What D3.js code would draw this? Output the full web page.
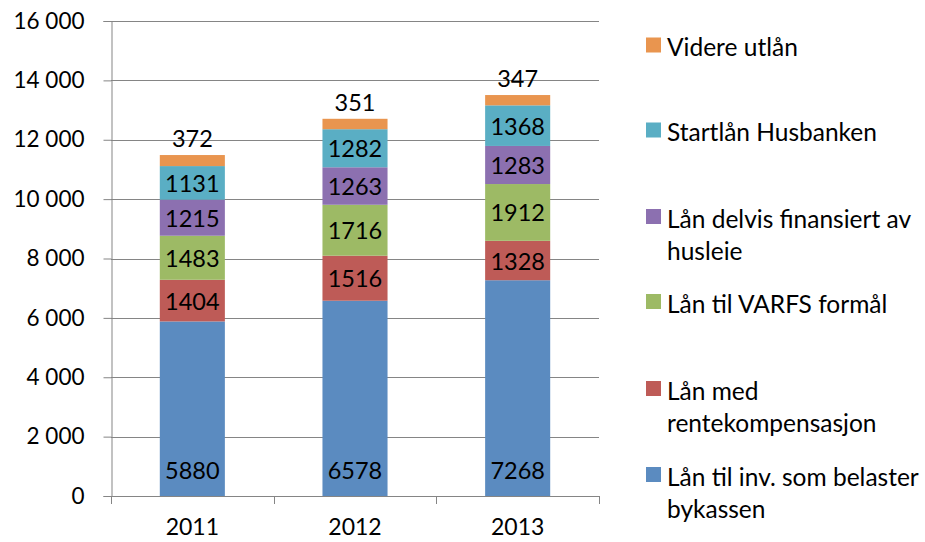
<!DOCTYPE html>
<html>
<head>
<meta charset="utf-8">
<script src="https://cdn.jsdelivr.net/npm/d3@7"></script>
<style>
  html, body { margin: 0; padding: 0; background: #fff; }
  svg { display: block; }
  text { font-family: Lato, "Open Sans", sans-serif; fill: #000; }
</style>
</head>
<body>
<svg id="chart" width="925" height="542"></svg>
<script>
const categories = ["2011", "2012", "2013"];
const seriesNames = [
  "Lån til inv. som belaster bykassen",
  "Lån med rentekompensasjon",
  "Lån til VARFS formål",
  "Lån delvis finansiert av husleie",
  "Startlån Husbanken",
  "Videre utlån"
];
const legendLines = [
  ["Lån til inv. som belaster", "bykassen"],
  ["Lån med", "rentekompensasjon"],
  ["Lån til VARFS formål"],
  ["Lån delvis finansiert av", "husleie"],
  ["Startlån Husbanken"],
  ["Videre utlån"]
];
const invBykassen = [5880, 6578, 7268];
const renteKomp = [1404, 1516, 1328];
const varfs = [1483, 1716, 1912];
const husleie = [1215, 1263, 1283];
const startlan = [1131, 1282, 1368];
const videreUtlan = [372, 351, 347];
const yTicks = [0, 2000, 4000, 6000, 8000, 10000, 12000, 14000, 16000];
const colors = ["#5b8bc0", "#be5b57", "#9dba65", "#8c70b0", "#5aaec4", "#e9954f"];

(function () {
const seriesValues = [invBykassen, renteKomp, varfs, husleie, startlan, videreUtlan];
const rows = categories.map((c, i) => {
  const r = { cat: c };
  seriesNames.forEach((s, k) => r[s] = seriesValues[k][i]);
  return r;
});
const stacked = d3.stack().keys(seriesNames)(rows);

const svg = d3.select("#chart");
const pLeft = 111, pRight = 599, pTop = 21, pBottom = 496;

const x = d3.scaleBand().domain(categories).range([pLeft, pRight]).paddingInner(0.6).paddingOuter(0.3);
const y = d3.scaleLinear().domain([0, 16000]).range([pBottom, pTop]);

const fmt = v => d3.format(",")(v).replace(/,/g, " ");

// gridlines
svg.append("g").selectAll("line").data(yTicks.filter(t => t > 0)).join("line")
  .attr("x1", pLeft).attr("x2", pRight)
  .attr("y1", d => Math.round(y(d)) + 0.5).attr("y2", d => Math.round(y(d)) + 0.5)
  .attr("stroke", "#858585").attr("stroke-width", 1);

// y axis
const yAxis = svg.append("g").attr("transform", `translate(${pLeft + 0.5},0)`)
  .call(d3.axisLeft(y).tickValues(yTicks).tickFormat(fmt).tickSize(8).tickPadding(19));
yAxis.select(".domain").attr("stroke", "#858585");
yAxis.selectAll(".tick line").attr("stroke", "#858585");
yAxis.selectAll("text").attr("font-size", 22.5).attr("font-family", "Lato").attr("fill", "#000");

// bars
const layers = svg.append("g").selectAll("g").data(stacked).join("g")
  .attr("fill", (d, i) => colors[i]);
layers.selectAll("rect").data(d => d).join("rect")
  .attr("x", d => x(d.data.cat))
  .attr("width", x.bandwidth())
  .attr("y", d => y(d[1]))
  .attr("height", d => y(d[0]) - y(d[1]));

// x axis
const xAxis = svg.append("g").attr("transform", `translate(0,${pBottom + 0.5})`)
  .call(d3.axisBottom(x).tickSize(0).tickPadding(22));
xAxis.select(".domain").attr("stroke", "#858585").attr("d", `M${pLeft},0H${pRight}`);
xAxis.selectAll("text").attr("font-size", 23).attr("font-family", "Lato").attr("fill", "#000");
// category boundary ticks
const bounds = d3.range(categories.length + 1).map(i => pLeft + i * (pRight - pLeft) / categories.length);
svg.append("g").selectAll("line").data(bounds).join("line")
  .attr("x1", d => Math.round(d) + 0.5).attr("x2", d => Math.round(d) + 0.5)
  .attr("y1", pBottom).attr("y2", pBottom + 8)
  .attr("stroke", "#858585");

// data labels
stacked.forEach((layer, k) => {
  svg.append("g").selectAll("text").data(layer).join("text")
    .attr("x", d => x(d.data.cat) + x.bandwidth() / 2)
    .attr("y", d => k === stacked.length - 1 ? y(d[1]) - 17 : (k === 0 ? y(870) : (y(d[0]) + y(d[1])) / 2))
    .attr("text-anchor", "middle")
    .attr("dominant-baseline", "central")
    .attr("font-size", 23.5)
    .text(d => d[1] - d[0]);
});

// legend
const legendY = [476, 390, 303, 218, 131.5, 46.5];
const lg = svg.append("g");
seriesNames.forEach((s, i) => {
  const yc = legendY[i];
  lg.append("rect").attr("x", 646).attr("y", yc - 9).attr("width", 15).attr("height", 15).attr("fill", colors[i]);
  legendLines[i].forEach((line, j) => {
    lg.append("text").attr("x", 667).attr("y", yc + j * 32).attr("dominant-baseline", "central")
      .attr("font-size", 24.5).text(line);
  });
});
})();
</script>
</body>
</html>
